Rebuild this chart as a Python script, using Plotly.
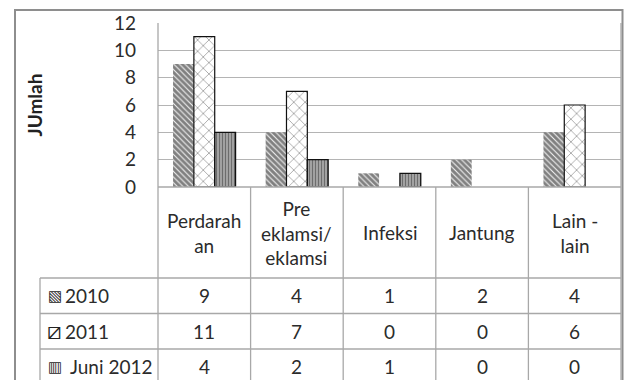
import plotly.graph_objects as go

# Causes of maternal death per year (counts)
categories = ["Perdarahan", "Pre eklamsi/eklamsi", "Infeksi", "Jantung", "Lain - lain"]
category_labels = ["Perdarah<br>an", "Pre<br>eklamsi/<br>eklamsi", "Infeksi", "Jantung", "Lain -<br>lain"]
series_names = ["2010", "2011", "Juni 2012"]
values_2010 = [9, 4, 1, 2, 4]
values_2011 = [11, 7, 0, 0, 6]
values_2012 = [4, 2, 1, 0, 0]
y_ticks = [0, 2, 4, 6, 8, 10, 12]
y_title = "JUmlah"

series_values = [values_2010, values_2011, values_2012]
legend_glyphs = ["\u25a7", "\u29c4", "\u25a5"]
legend_glyph_sizes = [15, 23, 15]

# pixel geometry of the plot area inside the 624x380 canvas
W, H = 624, 380
L, R, T, B = 158, 621, 23, 187
PW, PH = R - L, B - T


def px(x):
    return (x - L) / PW


def py(y):
    return (B - y) / PH


FONT = "Lato, 'Open Sans', sans-serif"
TEXT_SIZE = 19
TEXT_COLOR = "#2b2b2b"
GRID = "#b4b4b4"
TABLE_LINE = "#a8a8a8"

patterns = [
    dict(shape="\\", size=4, solidity=0.72, fgcolor="#0d0d0d", bgcolor="#f2f2f2"),
    dict(shape="x", size=8, solidity=0.16, fgcolor="#111111", bgcolor="white"),
    dict(shape="|", size=3, solidity=0.6, fgcolor="#151515", bgcolor="#c4c4c4"),
]
outline_widths = [0, 1.2, 1.3]

fig = go.Figure()
for name, vals, pat, lw in zip(series_names, series_values, patterns, outline_widths):
    # empty bars get no outline so nothing is drawn for a zero count
    widths = [lw if v else 0 for v in vals]
    fig.add_trace(go.Bar(
        x=categories, y=vals, name=name,
        marker=dict(color="white", pattern=pat, line=dict(color="#111111", width=widths)),
    ))

shapes = []
# outer chart frame
shapes.append(dict(type="rect", xref="paper", yref="paper",
                   x0=px(15), x1=px(622.5), y0=py(10), y1=py(430),
                   line=dict(color="#8e8e8e", width=2), layer="above"))
# plot area / table borders
bottom = py(430)
for x in (0, 1):
    shapes.append(dict(type="line", xref="paper", yref="paper", x0=x, x1=x, y0=1, y1=bottom,
                       line=dict(color=TABLE_LINE, width=1.3)))
shapes.append(dict(type="line", xref="paper", yref="paper", x0=0, x1=1, y0=0, y1=0,
                   line=dict(color=TABLE_LINE, width=1.3)))
# category column separators
for i in range(len(categories) - 1):
    shapes.append(dict(type="line", xref="x", yref="paper", x0=i + 0.5, x1=i + 0.5, y0=0, y1=bottom,
                       line=dict(color=TABLE_LINE, width=1.3)))
# data table rows
row_edges = [278, 313.5, 349, 384.5]
for y in row_edges[:-1]:
    shapes.append(dict(type="line", xref="paper", yref="paper", x0=px(40), x1=1, y0=py(y), y1=py(y),
                       line=dict(color=TABLE_LINE, width=1.3)))
shapes.append(dict(type="line", xref="paper", yref="paper", x0=px(40), x1=px(40), y0=py(278), y1=bottom,
                   line=dict(color=TABLE_LINE, width=1.3)))

annotations = []
# category header row
for i, lab in enumerate(category_labels):
    annotations.append(dict(x=i, y=py(232.5), xref="x", yref="paper", text=lab, showarrow=False,
                            xanchor="center", yanchor="middle",
                            font=dict(family=FONT, size=TEXT_SIZE, color=TEXT_COLOR)))
# data rows
label_x = [62.5, 62.5, 67.5]
for r, (name, vals, glyph, gs) in enumerate(zip(series_names, series_values, legend_glyphs,
                                                  legend_glyph_sizes)):
    yc = py((row_edges[r] + row_edges[r + 1]) / 2)
    annotations.append(dict(x=px(54.5), y=yc, xref="paper", yref="paper", text=glyph, showarrow=False,
                            xanchor="center", yanchor="middle",
                            font=dict(family="DejaVu Sans", size=gs, color="#222222")))
    annotations.append(dict(x=px(label_x[r]), y=yc, xref="paper", yref="paper", text=name, showarrow=False,
                            xanchor="left", yanchor="middle",
                            font=dict(family=FONT, size=TEXT_SIZE, color=TEXT_COLOR)))
    for i, v in enumerate(vals):
        annotations.append(dict(x=i, y=yc, xref="x", yref="paper", text=str(v), showarrow=False,
                                xanchor="center", yanchor="middle",
                                font=dict(family=FONT, size=TEXT_SIZE, color=TEXT_COLOR)))
# axis title
annotations.append(dict(x=px(33.5), y=0.5, xref="paper", yref="paper", text="<b>" + y_title + "</b>",
                        textangle=-90, showarrow=False, xanchor="center", yanchor="middle",
                        font=dict(family=FONT, size=19, color="#222222")))

fig.update_layout(
    width=W, height=H,
    margin=dict(l=L, r=W - R, t=T, b=H - B),
    paper_bgcolor="white", plot_bgcolor="white",
    barmode="group", bargap=0.325, bargroupgap=0,
    showlegend=False,
    xaxis=dict(range=[-0.5, len(categories) - 0.5], showticklabels=False, showgrid=False,
               zeroline=False, showline=False, ticks=""),
    yaxis=dict(range=[0, 12], tickvals=y_ticks, showgrid=True, gridcolor=GRID, gridwidth=1.3,
               zeroline=False, showline=False, ticks="", ticklabelstandoff=21,
               tickfont=dict(family=FONT, size=TEXT_SIZE, color=TEXT_COLOR)),
    shapes=shapes, annotations=annotations,
)

fig.write_html("out.html")
